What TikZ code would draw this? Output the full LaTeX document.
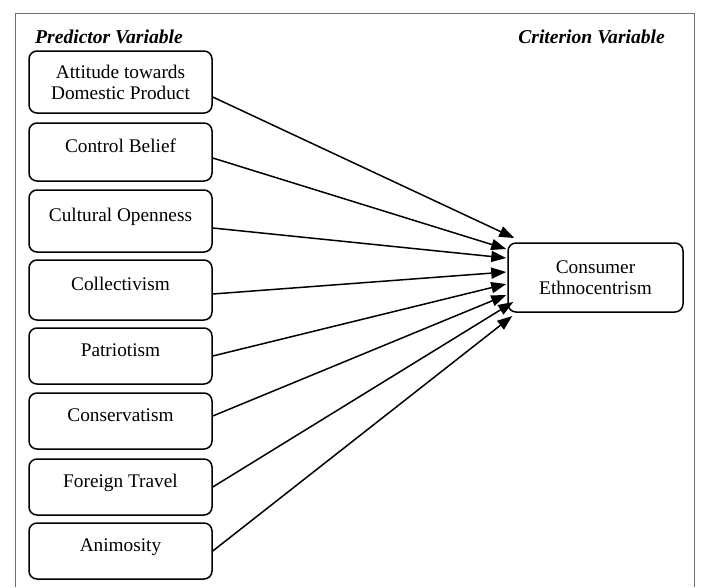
\documentclass[tikz,border=0pt]{standalone}
\usepackage{fontspec}
\setmainfont{Liberation Serif}
\usepackage{xcolor}
\usepackage{tikz}
\usetikzlibrary{arrows.meta,shapes,positioning}
\definecolor{framegray}{RGB}{110,110,110}

\begin{document}
\begin{tikzpicture}[
    x=1pt, y=-1pt,
    every node/.style={font=\fontsize{19.3}{21}\selectfont},
    varbox/.style={rectangle, draw, line width=1.5pt, rounded corners=8pt, minimum width=183pt, minimum height=58pt, inner sep=0pt, align=center, text height=14pt, text depth=13pt},
    heading/.style={font=\fontsize{19.6}{21}\selectfont\bfseries\itshape, inner sep=0pt},
    arrow/.style={-{Triangle[length=15pt,width=11pt]}, line width=1.5pt}
]
    \useasboundingbox (0,0) rectangle (701,587);
    \draw[framegray, line width=1pt] (15,587) -- (15,13) -- (694,13) -- (694,587);

    \node[heading, anchor=base west] (predictor) at (35,43) {Predictor Variable};
    \node[heading, anchor=base east] (criterion) at (665,43) {Criterion Variable};

    \node[varbox, minimum height=62pt, text height=, text depth=] (attitude) at (120.5,82) {Attitude towards\\Domestic Product};
    \node[varbox] (control) at (120.5,152) {Control Belief};
    \node[varbox, minimum height=62pt] (openness) at (120.5,221) {Cultural Openness};
    \node[varbox, minimum height=60pt] (collect) at (120.5,290) {Collectivism};
    \node[varbox, minimum height=56pt] (patriot) at (120.5,356) {Patriotism};
    \node[varbox, minimum height=56pt] (conserv) at (120.5,421) {Conservatism};
    \node[varbox, minimum height=56pt] (travel) at (120.5,487) {Foreign Travel};
    \node[varbox, minimum height=56pt] (animosity) at (120.5,551) {Animosity};

    \node[varbox, minimum width=175pt, minimum height=69pt, text height=, text depth=] (consumer) at (595.5,277.5) {Consumer\\Ethnocentrism};

    \draw[arrow] ([yshift=-15pt]attitude.east) -- ([xshift=7pt,yshift=39.5pt]consumer.west);
    \draw[arrow] ([yshift=-6pt]control.east) -- ([xshift=-1pt,yshift=28.5pt]consumer.west);
    \draw[arrow] ([yshift=-7pt]openness.east) -- ([xshift=-1pt,yshift=19.5pt]consumer.west);
    \draw[arrow] ([yshift=-4pt]collect.east) -- ([xshift=-1pt,yshift=5.5pt]consumer.west);
    \draw[arrow] (patriot.east) -- ([xshift=-1pt,yshift=-6.5pt]consumer.west);
    \draw[arrow] ([yshift=5pt]conserv.east) -- ([xshift=-1pt,yshift=-17.5pt]consumer.west);
    \draw[arrow] (travel.east) -- ([xshift=6pt,yshift=-24.5pt]consumer.west);
    \draw[arrow] (animosity.east) -- ([xshift=5pt,yshift=-38.5pt]consumer.west);
\end{tikzpicture}
\end{document}
